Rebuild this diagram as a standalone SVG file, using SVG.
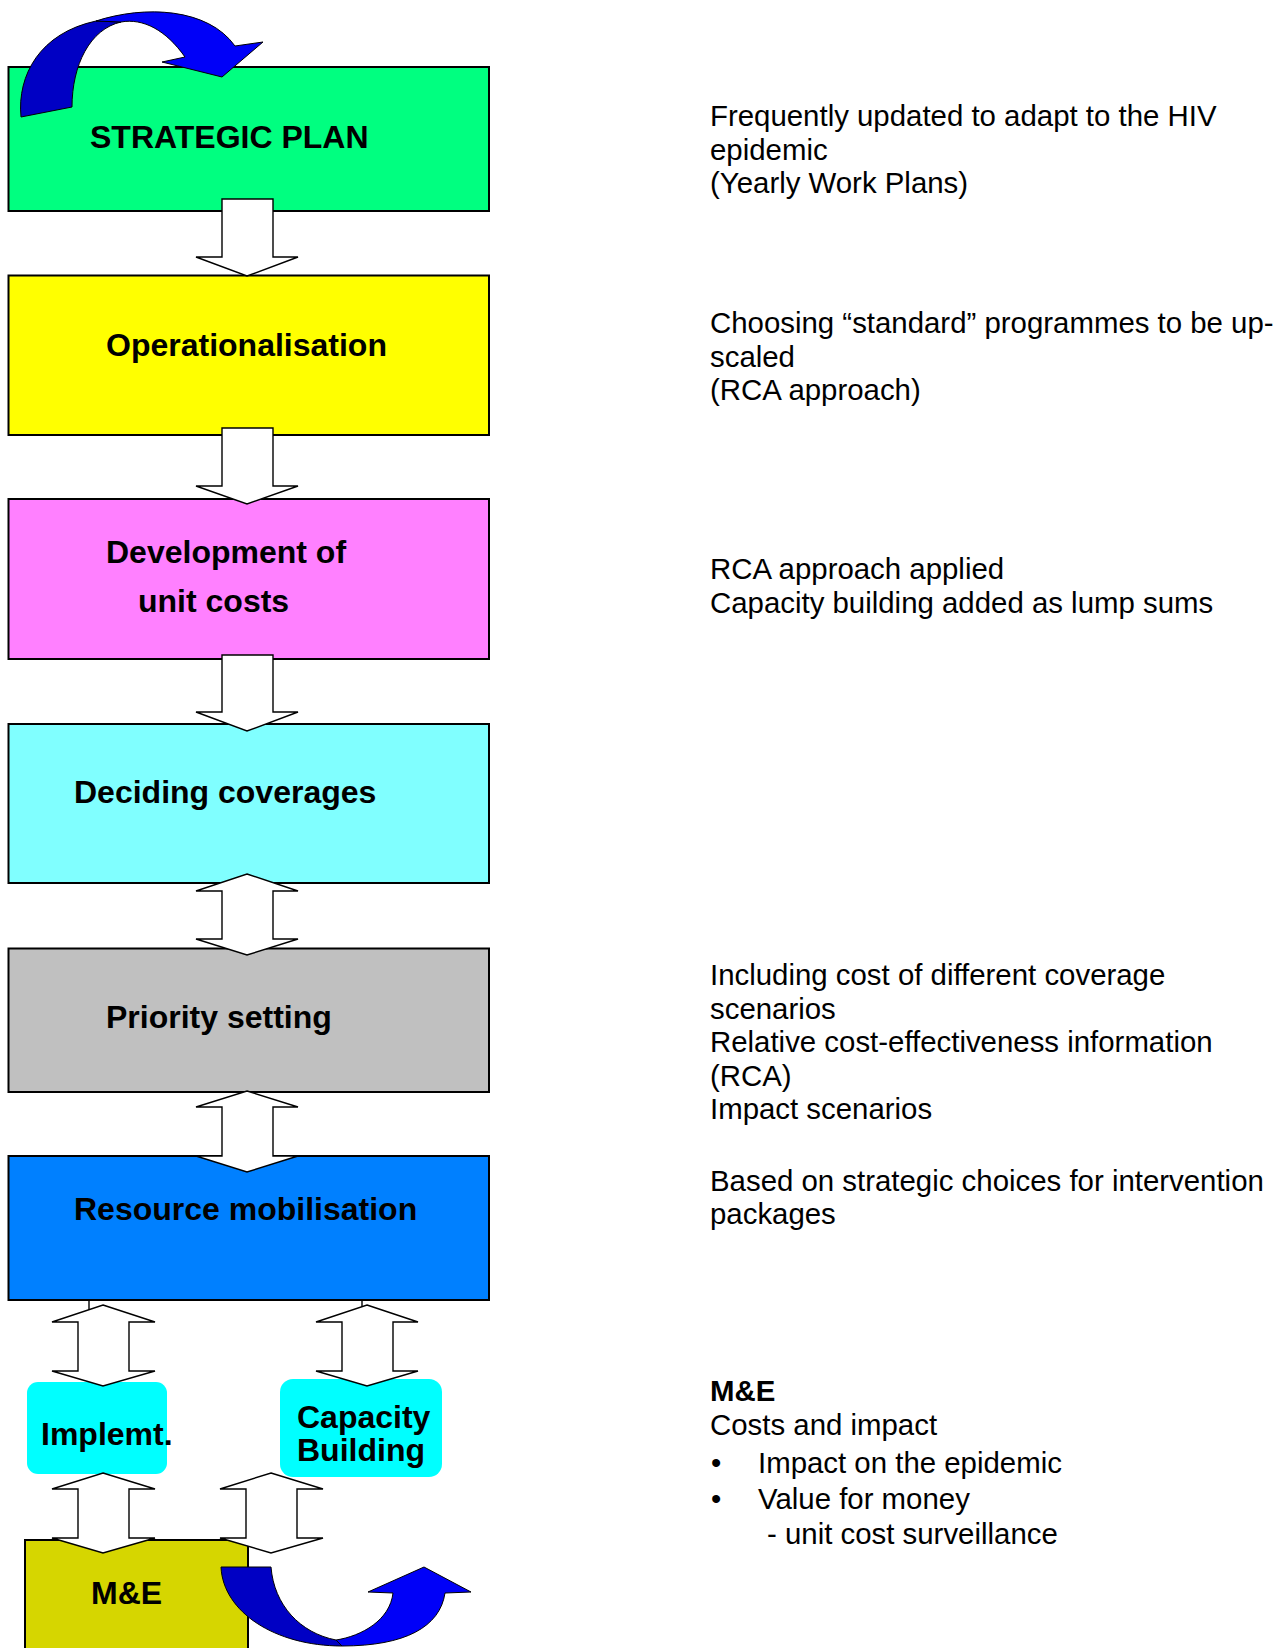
<svg xmlns="http://www.w3.org/2000/svg" width="1286" height="1648" viewBox="0 0 1286 1648">
<style>
.box{stroke:#000;stroke-width:2}
.lbl{font-family:"Liberation Sans",Arial,sans-serif;font-weight:bold;font-size:32px;fill:#000}
.note{font-family:"Liberation Sans",Arial,sans-serif;font-size:29.4px;fill:#000}
.arr{fill:#fff;stroke:#000;stroke-width:1.4;stroke-linejoin:miter}
.cdark{fill:#0000C4;stroke:#000;stroke-width:1}
.clight{fill:#0000F8;stroke:#000;stroke-width:1}
</style>
<rect width="1286" height="1648" fill="#fff"/>

<g id="strategic-plan">
<rect class="box" x="8.5" y="67" width="480.5" height="144" fill="#00FF80"/>
<text class="lbl" x="90" y="148">STRATEGIC PLAN</text>
</g>
<g id="operationalisation">
<rect class="box" x="8.5" y="275.5" width="480.5" height="159.5" fill="#FFFF00"/>
<text class="lbl" x="106" y="356">Operationalisation</text>
</g>
<g id="unit-costs">
<rect class="box" x="8.5" y="499" width="480.5" height="160" fill="#FF80FF"/>
<text class="lbl" x="106" y="563">Development of</text>
<text class="lbl" x="138" y="612">unit costs</text>
</g>
<g id="coverages">
<rect class="box" x="8.5" y="724" width="480.5" height="159" fill="#80FFFF"/>
<text class="lbl" x="74" y="803">Deciding coverages</text>
</g>
<g id="priority">
<rect class="box" x="8.5" y="948.5" width="480.5" height="143.5" fill="#C0C0C0"/>
<text class="lbl" x="106" y="1028">Priority setting</text>
</g>
<g id="resource">
<rect class="box" x="8.5" y="1156" width="480.5" height="144" fill="#0080FF"/>
<text class="lbl" x="74" y="1220">Resource mobilisation</text>
</g>
<g id="implemt">
<rect x="27" y="1382" width="140" height="92" rx="11" fill="#00FFFF"/>
<text class="lbl" x="41" y="1445">Implemt.</text>
</g>
<g id="capacity">
<rect x="280" y="1379" width="162" height="98" rx="13" fill="#00FFFF"/>
<text class="lbl" x="297" y="1428" font-size="31.5">Capacity</text>
<text class="lbl" x="297" y="1461" font-size="31.5">Building</text>
</g>
<g id="me">
<rect class="box" x="25" y="1540" width="223" height="120" fill="#D6D600"/>
<text class="lbl" x="91" y="1604">M&amp;E</text>
</g>

<g id="connectors">
<line x1="89" y1="1300" x2="89" y2="1310" stroke="#000" stroke-width="1.4"/>
<line x1="362" y1="1300" x2="362" y2="1310" stroke="#000" stroke-width="1.4"/>
<path class="arr" d="M222,199 L273,199 L273,257 L298,257 L247,276 L196,257 L222,257 Z"/>
<path class="arr" d="M222,428 L273,428 L273,486 L298,486 L247,504 L196,486 L222,486 Z"/>
<path class="arr" d="M222,655 L273,655 L273,712 L298,712 L247,731 L196,712 L222,712 Z"/>
<path class="arr" d="M247,874 L298,891 L273,891 L273,939 L298,939 L247,955 L196,939 L222,939 L222,891 L196,891 Z"/>
<path class="arr" d="M247,1091 L298,1107 L273,1107 L273,1156 L298,1156 L247,1172 L196,1156 L222,1156 L222,1107 L196,1107 Z"/>
<path class="arr" d="M103,1305 L155,1322 L129,1322 L129,1371 L155,1371 L103,1386 L52,1371 L78,1371 L78,1322 L52,1322 Z"/>
<path class="arr" d="M367,1305 L418,1322 L393,1322 L393,1371 L418,1371 L367,1386 L316,1371 L342,1371 L342,1322 L316,1322 Z"/>
<path class="arr" d="M103,1473 L155,1489 L129,1489 L129,1538 L155,1538 L103,1553 L52,1538 L78,1538 L78,1489 L52,1489 Z"/>
<path class="arr" d="M271,1473 L323,1489 L297,1489 L297,1538 L323,1538 L271,1553 L220,1538 L246,1538 L246,1489 L220,1489 Z"/>
<g id="cycle-top">
<path class="cdark" d="M21,117 C17,75 40,33 96,21 L121,22 C90,29 72,65 72,107 Z"/>
<path class="clight" d="M96,21 C145,5 208,8 235,46 L263,42 L222,77 L162,62 L185,57 C166,30 143,18 121,22 Z"/>
</g>
<g id="cycle-bottom">
<path class="cdark" d="M221,1567 L271,1567 C274,1605 300,1633 336,1640 L342,1646 C275,1646 223,1612 221,1567 Z"/>
<path class="clight" d="M336,1640 C362,1636 390,1620 393,1593 L368,1592 L424,1567 L471,1592 L445,1593 C440,1627 405,1646 342,1646 Z"/>
</g>
</g>

<g id="notes">
<text class="note" x="710" y="126">Frequently updated to adapt to the HIV</text>
<text class="note" x="710" y="159.5">epidemic</text>
<text class="note" x="710" y="193">(Yearly Work Plans)</text>
<text class="note" x="710" y="333">Choosing “standard” programmes to be up-</text>
<text class="note" x="710" y="366.5">scaled</text>
<text class="note" x="710" y="400">(RCA approach)</text>
<text class="note" x="710" y="579">RCA approach applied</text>
<text class="note" x="710" y="612.5">Capacity building added as lump sums</text>
<text class="note" x="710" y="985">Including cost of different coverage</text>
<text class="note" x="710" y="1018.5">scenarios</text>
<text class="note" x="710" y="1052">Relative cost-effectiveness information</text>
<text class="note" x="710" y="1085.5">(RCA)</text>
<text class="note" x="710" y="1119">Impact scenarios</text>
<text class="note" x="710" y="1190.5">Based on strategic choices for intervention</text>
<text class="note" x="710" y="1224">packages</text>
<text class="note" x="710" y="1400.5" font-weight="bold">M&amp;E</text>
<text class="note" x="710" y="1435">Costs and impact</text>
<text class="note" x="711" y="1473">•</text>
<text class="note" x="758" y="1473">Impact on the epidemic</text>
<text class="note" x="711" y="1509">•</text>
<text class="note" x="758" y="1509">Value for money</text>
<text class="note" x="767" y="1543.5">- unit cost surveillance</text>
</g>
</svg>
